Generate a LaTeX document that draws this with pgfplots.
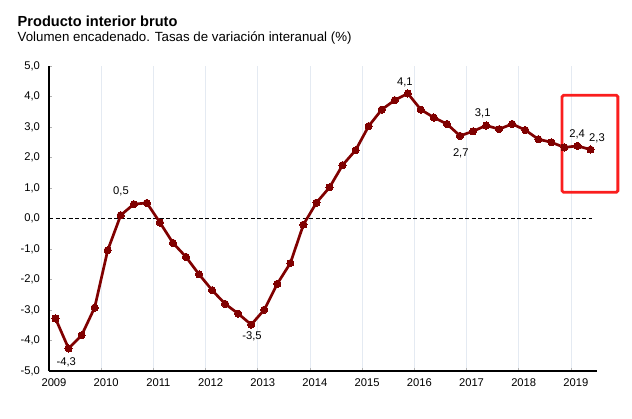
\documentclass[border=0pt]{standalone}
\usepackage{pgfplots}
\pgfplotsset{compat=1.18}
\usepackage{fontspec}
\setmainfont{Liberation Sans}
\definecolor{serie}{RGB}{128,0,0}
\definecolor{gridc}{RGB}{228,234,242}
\definecolor{marco}{RGB}{250,30,30}
\begin{document}
\begin{tikzpicture}
\useasboundingbox (0,0) rectangle (632pt,418pt);
\node[anchor=base west, inner sep=0pt] at (17.5pt,391.3pt) {\fontsize{14.6}{17}\selectfont\bfseries Producto interior bruto};
\node[anchor=base west, inner sep=0pt] at (17.5pt,376.5pt) {\fontsize{13.3}{15}\selectfont Volumen encadenado. Tasas de variación interanual (\%)};
\begin{axis}[
  at={(49pt,47pt)}, anchor=south west,
  width=548pt, height=305pt, scale only axis,
  xmin=2009, xmax=2019.5, ymin=-5, ymax=5,
  axis lines*=left,
  axis line style={black, line width=1.1pt},
  xtick={2009,2010,...,2019},
  ytick={-5,-4,...,5},
  xmajorgrids, major grid style={gridc, line width=0.8pt},
  tick align=inside,
  major tick length=3.5pt,
  xtick style={draw=gray!60, line width=0.6pt},
  ytick style={draw=gray!60, line width=0.6pt},
  tick label style={font=\fontsize{11.2}{13}\selectfont},
  xticklabel style={/pgf/number format/1000 sep={}, /pgf/number format/assume math mode=true, xshift=5pt, yshift=-4pt},
  yticklabel style={/pgf/number format/.cd, fixed, fixed zerofill, precision=1, use comma, assume math mode=true, /tikz/xshift=-5.5pt},
  clip=false,
]
\addplot[black, line width=1.1pt, dash pattern=on 4pt off 2.5pt] coordinates {(2009,0) (2019.4,0)};
\addplot[serie, line width=2.7pt, mark=*, mark size=3.6pt, mark options={fill=serie, draw=serie, line width=0pt}] coordinates {
(2009.125,-3.28) (2009.375,-4.26) (2009.625,-3.83) (2009.875,-2.92)
(2010.125,-1.04) (2010.375,0.11) (2010.625,0.47) (2010.875,0.51)
(2011.125,-0.13) (2011.375,-0.80) (2011.625,-1.26) (2011.875,-1.83)
(2012.125,-2.35) (2012.375,-2.80) (2012.625,-3.12) (2012.875,-3.48)
(2013.125,-2.99) (2013.375,-2.14) (2013.625,-1.46) (2013.875,-0.20)
(2014.125,0.52) (2014.375,1.02) (2014.625,1.75) (2014.875,2.24)
(2015.125,3.03) (2015.375,3.57) (2015.625,3.88) (2015.875,4.10)
(2016.125,3.57) (2016.375,3.31) (2016.625,3.10) (2016.875,2.71)
(2017.125,2.86) (2017.375,3.05) (2017.625,2.93) (2017.875,3.10)
(2018.125,2.90) (2018.375,2.60) (2018.625,2.50) (2018.875,2.33)
(2019.125,2.38) (2019.375,2.26)
};
\begin{scope}[every node/.style={font=\fontsize{11.2}{13}\selectfont, inner sep=0pt}]
\node at (axis cs:2009.33,-4.71) {-4,3};
\node at (axis cs:2010.38,0.90) {0,5};
\node at (axis cs:2012.89,-3.86) {-3,5};
\node at (axis cs:2015.82,4.46) {4,1};
\node at (axis cs:2017.31,3.45) {3,1};
\node at (axis cs:2016.89,2.14) {2,7};
\node at (axis cs:2019.12,2.76) {2,4};
\node at (axis cs:2019.50,2.64) {2,3};
\end{scope}
\draw[marco, line width=2.8pt, rounded corners=1.5pt] (axis cs:2018.83,0.86) rectangle (axis cs:2019.90,4.04);
\end{axis}
\end{tikzpicture}
\end{document}
